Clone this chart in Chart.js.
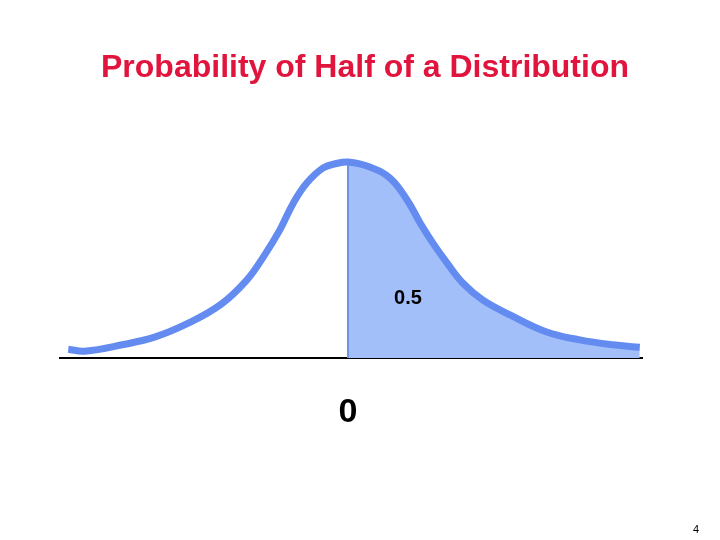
<!DOCTYPE html>
<html>
<head>
<meta charset="utf-8">
<title>Probability of Half of a Distribution</title>
<script src="https://cdn.jsdelivr.net/npm/chart.js@4"></script>
<style>
  html, body { margin: 0; padding: 0; background: #fff; }
  canvas { display: block; }
</style>
</head>
<body>
<canvas id="chart" width="720" height="540"></canvas>
<script>
// curve: z score and density height
const zLeft = [-3.73, -3.51, -3.01, -2.57, -2.13, -1.69, -1.35, -1.13, -0.91, -0.73, -0.55, -0.33, -0.15];
const densLeft = [0.018, 0.014, 0.027, 0.043, 0.071, 0.11, 0.159, 0.206, 0.261, 0.316, 0.357, 0.388, 0.397];
const zRight = [0, 0.29, 0.56, 0.79, 0.96, 1.13, 1.32, 1.53, 1.8, 2.16, 2.65, 3.09, 3.53, 3.89];
const densRight = [0.4, 0.39, 0.367, 0.322, 0.276, 0.235, 0.194, 0.153, 0.118, 0.088, 0.053, 0.037, 0.027, 0.022];
const xTicks = [0];
const titleText = "Probability of Half of a Distribution";
const areaText = "0.5";
const areaAt = { z: 0.8, y: 0.122 };
const pageNo = "4";

const toPts = (xs, ys) => xs.map((x, i) => ({ x, y: ys[i] }));
const curve = toPts(zLeft.concat(zRight), densLeft.concat(densRight));
const rightHalf = toPts(zRight, densRight);
const divider = [{ x: 0, y: 0 }, { x: 0, y: densRight[0] }];

const textPlugin = {
  id: "texts",
  afterDraw(chart) {
    const ctx = chart.ctx;
    const { x, y } = chart.scales;
    ctx.save();
    ctx.textAlign = "center";
    ctx.textBaseline = "middle";
    ctx.fillStyle = "#e0143c";
    ctx.font = "bold 32px 'Liberation Sans', Arial, sans-serif";
    ctx.fillText(titleText, 365, 68);
    ctx.fillStyle = "#000";
    ctx.font = "bold 20px 'Liberation Sans', Arial, sans-serif";
    ctx.fillText(areaText, x.getPixelForValue(areaAt.z), y.getPixelForValue(areaAt.y));
    ctx.font = "11px 'Liberation Sans', Arial, sans-serif";
    ctx.fillText(pageNo, 696, 530);
    ctx.restore();
  }
};

new Chart(document.getElementById("chart"), {
  type: "line",
  data: {
    datasets: [
      {
        data: curve,
        borderColor: "#648cf0",
        borderWidth: 7,
        pointRadius: 0,
        tension: 0.4,
        fill: false,
        order: 0
      },
      {
        data: rightHalf,
        borderColor: "rgba(0,0,0,0)",
        backgroundColor: "#a2bff9",
        borderWidth: 0,
        pointRadius: 0,
        tension: 0.4,
        fill: "origin",
        order: 2
      },
      {
        data: divider,
        borderColor: "#6f95e2",
        borderWidth: 2,
        pointRadius: 0,
        fill: false,
        order: 1
      }
    ]
  },
  options: {
    responsive: false,
    animation: false,
    events: [],
    layout: { padding: { left: 60, right: 78, top: 113, bottom: 62 } },
    plugins: { legend: { display: false }, tooltip: { enabled: false }, title: { display: false } },
    scales: {
      x: {
        type: "linear",
        min: -3.84,
        max: 3.92,
        z: 1,
        grid: { display: false },
        border: { display: true, color: "#000", width: 2 },
        afterBuildTicks: s => { s.ticks = xTicks.map(v => ({ value: v })); },
        afterFit: s => { s.height = 120; },
        ticks: {
          padding: 26,
          color: "#000",
          font: { family: "'Liberation Sans', Arial, sans-serif", size: 34, weight: "bold" }
        }
      },
      y: { display: false, min: 0, max: 0.5 }
    }
  },
  plugins: [textPlugin]
});
</script>
</body>
</html>
